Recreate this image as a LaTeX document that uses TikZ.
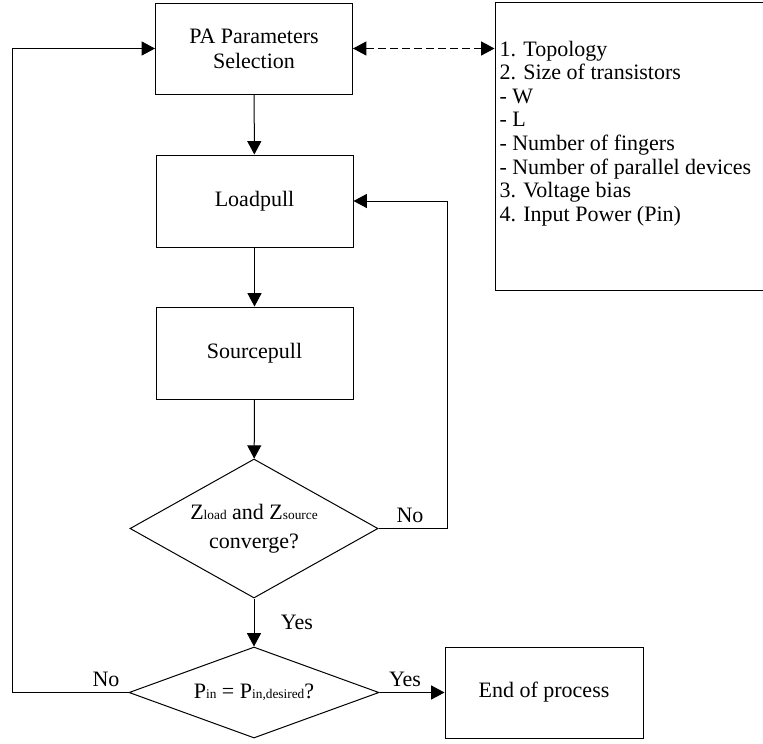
\documentclass[tikz,border=0pt]{standalone}
\usepackage{fontspec}
\setmainfont{Liberation Serif}
\usetikzlibrary{shapes.geometric,arrows.meta}

% small subscript-like text set on the baseline
\newcommand\smallsub[1]{{\fontsize{10}{10}\selectfont #1}}

\begin{document}
\begin{tikzpicture}[x=0.75pt,y=-0.75pt,
  line width=0.75pt,
  every node/.style={font=\fontsize{16.5}{18.75}\selectfont},
  box/.style={draw, inner sep=0pt, minimum width=147.75pt, minimum height=69pt, align=center},
  decision/.style={draw, diamond, inner sep=0pt, align=center},
  arr/.style={-{Triangle[length=10pt,width=10.5pt]}},
  darr/.style={{Triangle[length=10pt,width=10.5pt]}-{Triangle[length=10pt,width=10.5pt]}, dash pattern=on 6pt off 3pt},
  lbl/.style={inner sep=0pt}
]
\useasboundingbox (0,0) rectangle (763,743);

% process boxes
\node[box, minimum height=68.25pt] (pa) at (254,48.5) {PA Parameters\\Selection};
\node[box] (lp) at (254.5,201) {Loadpull};
\node[box] (sp) at (254.5,353) {Sourcepull};

% decisions
\node[decision, aspect=1.784, minimum width=186pt, minimum height=104.25pt,
      font=\fontsize{16.5}{21.75}\selectfont] (d1) at (254,528.5)
  {Z\smallsub{load} and Z\smallsub{source}\\converge?};
\node[decision, aspect=2.75, minimum width=187.5pt, minimum height=68.25pt] (d2) at (254,692.5)
  {P\smallsub{in} = P\smallsub{in,desired}?};

% end box
\node[box, minimum width=148.5pt, minimum height=68.25pt] (end) at (544,692.5) {End of process};

% parameter list
\node[draw, inner sep=0pt, minimum width=206.25pt, minimum height=216pt] (list) at (632.5,146) {};
\node[anchor=west, align=left, inner sep=0pt,
      font=\fontsize{16.5}{17.7}\selectfont] (listtext) at (499,133.5)
  {1. Topology\\2. Size of transistors\\- W\\- L\\- Number of fingers\\- Number of parallel devices\\3. Voltage bias\\4. Input Power (Pin)};

% loop turning points
\coordinate (leftx) at (12,0);
\coordinate (rightx) at (447,0);

% connectors
\draw[darr] (pa.east) -- (pa.east -| list.west);
\draw[arr] (pa) -- (lp);
\draw[arr] (lp) -- (sp);
\draw[arr] (sp) -- (d1);
\draw[arr] (d1) -- (d2);
\draw[arr] (d2) -- (end);
\draw[arr] (d1.east) -- (d1.east -| rightx) |- (lp.east);
\draw[arr] (d2.west) -- (d2.west -| leftx) |- (pa.west);

% branch labels
\node[lbl] (no1) at (410,515) {No};
\node[lbl] (yes1) at (297,622) {Yes};
\node[lbl] (no2) at (106,679) {No};
\node[lbl] (yes2) at (405,679) {Yes};
\end{tikzpicture}
\end{document}
